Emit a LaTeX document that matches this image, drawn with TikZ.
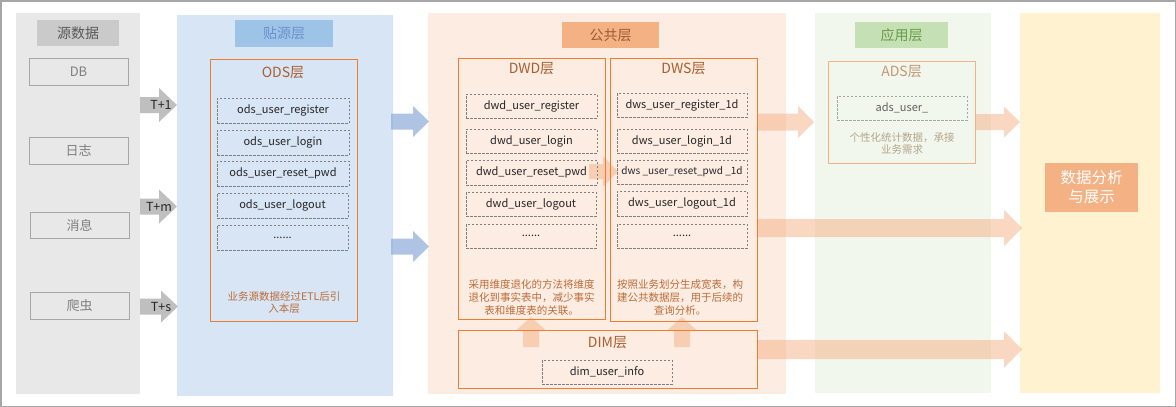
\documentclass[tikz,border=0pt]{standalone}
\usepackage{fontspec}
\setmainfont{Noto Sans CJK SC}
\definecolor{c1fill}{HTML}{E8E8E8}
\definecolor{c1hdr}{HTML}{CACACA}
\definecolor{c2fill}{HTML}{D8E5F4}
\definecolor{c2hdr}{HTML}{9DC3E6}
\definecolor{c3fill}{HTML}{FCECE2}
\definecolor{c3hdr}{HTML}{F4B183}
\definecolor{c4fill}{HTML}{F1F7EC}
\definecolor{c4hdr}{HTML}{C5E0B4}
\definecolor{c5fill}{HTML}{FFF2D1}
\definecolor{srcline}{HTML}{A6A6A6}
\definecolor{srctext}{HTML}{7F7F7F}
\definecolor{orangeline}{HTML}{ED7D31}
\definecolor{ttlbrown}{HTML}{A95F30}
\definecolor{notebrown}{HTML}{BB6D3A}
\definecolor{dashgray}{HTML}{7F7F7F}
\definecolor{arrgray}{HTML}{BFBFBF}
\definecolor{arrblue}{HTML}{8EAADB}
\definecolor{arrorange}{HTML}{F4B183}
\newcommand\rbox[7][]{\node[#1, minimum width={#5-#3}, minimum height={#6-#4}] (#2) at ({(#3+#5)/2},{(#4+#6)/2}) {#7};}
\newcommand\harr[7][]{\fill[#1] ({#2},{#4-#5}) -- ({#3-#7},{#4-#5}) -- ({#3-#7},{#4-#6}) -- ({#3},{#4}) -- ({#3-#7},{#4+#6}) -- ({#3-#7},{#4+#5}) -- ({#2},{#4+#5}) -- cycle;}
\newcommand\varr[7][]{\fill[#1] ({#2-#5},{#3}) -- ({#2-#5},{#4+#7}) -- ({#2-#6},{#4+#7}) -- ({#2},{#4}) -- ({#2+#6},{#4+#7}) -- ({#2+#5},{#4+#7}) -- ({#2+#5},{#3}) -- cycle;}
\begin{document}
\begin{tikzpicture}[x=1pt,y=-1pt,
  every node/.style={inner sep=0pt, outer sep=0pt},
  hdr/.style={fill=#1, font=\fontsize{14}{16}\selectfont},
  src/.style={draw=srcline, line width=1pt, text=srctext, font=\fontsize{13}{15}\selectfont},
  layerbox/.style={draw=orangeline, line width=1pt},
  ttl/.style={text=ttlbrown, font=\fontsize{14}{16}\selectfont},
  tbl/.style={draw=dashgray, dash pattern=on 2.5pt off 1.5pt, line width=0.8pt, font=\fontsize{11}{13}\selectfont, text=black!85},
  note/.style={text=notebrown, font=\fontsize{10.5}{12.6}\selectfont, align=center},
  oarr/.style={fill=arrorange, fill opacity=0.5},
  barr/.style={fill=arrblue, fill opacity=0.7},
  garr/.style={fill=arrgray},
  tlabel/.style={font=\fontsize{12.5}{14}\selectfont, text=black!85}
]
\useasboundingbox (0,0) rectangle (1176,407);
\fill[white] (0,0) rectangle (1176,407);
\draw[srcline, line width=1.5pt] (0.75,0.75) rectangle (1175.25,406.25);

% columns
\rbox[fill=c1fill]{col1}{16}{13}{140}{394}{}
\rbox[fill=c2fill]{col2}{177}{15}{393}{396}{}
\rbox[fill=c3fill]{col3}{428}{13}{786}{394}{}
\rbox[fill=c4fill]{col4}{815}{13}{991}{393}{}
\rbox[fill=c5fill]{col5}{1020}{13}{1160}{393}{}

% headers
\rbox[hdr=c1hdr, text=black!65]{h1}{37}{20}{119}{46}{源数据}
\rbox[hdr=c2hdr, text={rgb,255:red,112;green,144;blue,206}]{h2}{235}{20}{333}{47}{贴源层}
\rbox[hdr=c3hdr, text={rgb,255:red,158;green,91;blue,52}]{h3}{562}{22}{659}{48}{公共层}
\rbox[hdr=c4hdr, text={rgb,255:red,107;green,155;blue,72}]{h4}{855}{22}{948}{48}{应用层}

% sources
\rbox[src]{db}{29}{58}{128}{85}{DB}
\rbox[src]{log}{29}{137}{128}{164}{日志}
\rbox[src]{msg}{30}{212}{129}{238}{消息}
\rbox[src]{crawl}{30}{292}{129}{319}{爬虫}

% arrows
\harr[garr]{140}{177}{105}{8}{17}{18}
\harr[garr]{140}{177}{206.5}{8}{17}{18}
\harr[garr]{140}{178}{306.5}{8}{16}{17}
\node[tlabel] (t1) at (161,105) {T+1};
\node[tlabel] (tm) at (159,207) {T+m};
\node[tlabel] (ts) at (161,306.5) {T+s};

\harr[barr]{391}{429}{121.5}{8}{15.5}{16}
\harr[barr]{391}{429}{246.5}{8}{15.5}{16}

\harr[oarr]{589}{618}{171.5}{7.5}{15.5}{15}
\harr[oarr]{757}{814}{122}{8.5}{16}{16}
\harr[oarr]{975}{1020}{122}{8}{15.5}{16}
\harr[oarr]{757}{1022}{228}{9}{18}{18}
\harr[oarr]{757}{1022}{349.5}{9.5}{18.5}{18}
\varr[oarr]{531}{347}{317}{8}{14.5}{13}
\varr[oarr]{682}{347}{317}{8}{14.5}{13}

% ODS
\rbox[layerbox]{ods}{210}{59}{357}{321}{}
\node[ttl] (odst) at (283,73) {ODS层};
\rbox[tbl]{o1}{217}{98}{349}{123}{ods\_user\_register}
\rbox[tbl]{o2}{217}{130}{349}{155}{ods\_user\_login}
\rbox[tbl]{o3}{217}{161}{349}{186}{ods\_user\_reset\_pwd}
\rbox[tbl]{o4}{217}{193}{348}{218}{ods\_user\_logout}
\rbox[tbl]{o5}{217}{225}{348}{250}{......}
\node[note] (odsn) at (284,302.5) {业务源数据经过ETL后引\\入本层};

% DWD
\rbox[layerbox]{dwd}{458}{58}{605}{319}{}
\node[ttl] (dwdt) at (531.5,69) {DWD层};
\rbox[tbl]{d1}{466}{94}{597}{118}{dwd\_user\_register}
\rbox[tbl]{d2}{466}{129}{597}{153}{dwd\_user\_login}
\rbox[tbl]{d3}{466}{160}{597}{185}{dwd\_user\_reset\_pwd}
\rbox[tbl]{d4}{466}{192}{596}{216}{dwd\_user\_logout}
\rbox[tbl]{d5}{466}{224}{596}{248}{......}
\node[note] (dwdn) at (531.5,297.5) {采用维度退化的方法将维度\\退化到事实表中，减少事实\\表和维度表的关联。};

% DWS
\rbox[layerbox]{dws}{610}{58}{757}{321}{}
\node[ttl] (dwst) at (683.5,69) {DWS层};
\rbox[tbl]{s1}{617}{93}{747}{117}{dws\_user\_register\_1d}
\rbox[tbl]{s2}{617}{129}{747}{153}{dws\_user\_login\_1d}
\rbox[tbl, font=\fontsize{10}{12}\selectfont]{s3}{617}{160}{747}{184}{dws \_user\_reset\_pwd \_1d}
\rbox[tbl]{s4}{617}{191}{747}{216}{dws\_user\_logout\_1d}
\rbox[tbl]{s5}{617}{224}{747}{248}{......}
\node[note] (dwsn) at (680,297.5) {按照业务划分生成宽表，构\\建公共数据层，用于后续的\\查询分析。};

% DIM
\rbox[layerbox]{dim}{458}{330}{757}{388}{}
\node[ttl] (dimt) at (607.5,343) {DIM层};
\rbox[tbl]{m1}{542}{360}{672}{384}{dim\_user\_info}

% ADS
\rbox[draw=arrorange, line width=1pt]{ads}{828}{61}{975}{163}{}
\node[ttl, text={rgb,255:red,196;green,150;blue,115}] (adst) at (901.5,72) {ADS层};
\rbox[tbl, draw=black!35, text=black!62]{a1}{837}{96}{967}{120}{ads\_user\_}
\node[note, text={rgb,255:red,180;green,165;blue,140}] (adsn) at (902,143.5) {个性化统计数据，承接\\业务需求};

% output
\rbox[fill=c3hdr, text=white, font=\fontsize{15.5}{19}\selectfont, align=center]{out}{1045}{163}{1138}{212}{数据分析\\与展示}
\end{tikzpicture}
\end{document}
